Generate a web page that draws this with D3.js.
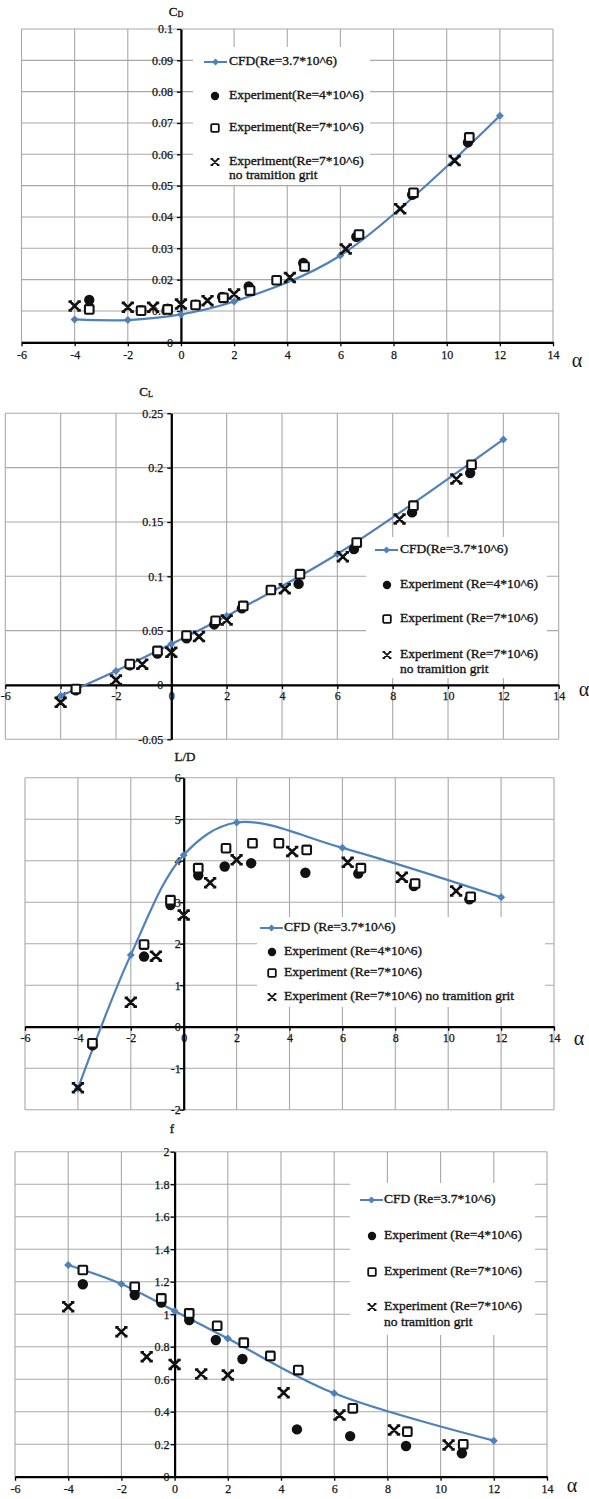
<!DOCTYPE html>
<html><head><meta charset="utf-8">
<script src="https://cdn.jsdelivr.net/npm/d3@7"></script>
<style>
body{margin:0;background:#fff}
svg{display:block}
</style>
</head><body>
<svg id="c" width="589" height="1499"></svg>
<script>
// ---------- data ----------
const alphaTicks = [-6,-4,-2,0,2,4,6,8,10,12,14];
const cdTicks = [0,0.01,0.02,0.03,0.04,0.05,0.06,0.07,0.08,0.09,0.1];
const clTicks = [-0.05,0,0.05,0.1,0.15,0.2,0.25];
const ldTicks = [-2,-1,0,1,2,3,4,5,6];
const fTicks  = [0,0.2,0.4,0.6,0.8,1,1.2,1.4,1.6,1.8,2];

const alphaCFD     = [-4,-2,0,2,6,12];
const alphaRe4     = [-3.45,-1.5,-0.5,0.55,1.55,2.55,4.6,6.6,8.7,10.8];
const alphaRe7     = [-3.45,-1.5,-0.5,0.55,1.6,2.6,3.6,4.65,6.7,8.75,10.85];
const alphaNoGrit  = [-4,-2,-1.05,0,1,2,4.1,6.2,8.25,10.3];

const cdCFD    = [0.0073,0.0071,0.0089,0.0130,0.0277,0.0723];
const cdRe4    = [0.0135,0.0102,0.0107,0.0120,0.0145,0.0178,0.0253,0.0337,0.0471,0.0638];
const cdRe7    = [0.0105,0.0101,0.0105,0.0119,0.0142,0.0165,0.0198,0.0242,0.0344,0.0477,0.0654];
const cdNoGrit = [0.0116,0.0112,0.0112,0.0122,0.0133,0.0154,0.0207,0.0298,0.0426,0.0580];

const clCFD    = [-0.010,0.0129,0.0376,0.0635,0.1205,0.226];
const clRe4    = [-0.005,0.018,0.029,0.043,0.0557,0.0705,0.093,0.125,0.1588,0.195];
const clRe7    = [-0.0037,0.0193,0.0313,0.0455,0.0591,0.0727,0.0874,0.102,0.131,0.165,0.2026];
const clNoGrit = [-0.016,0.0046,0.019,0.030,0.0445,0.0598,0.0885,0.118,0.1527,0.1895];

const ldCFD    = [-1.49,1.73,4.14,4.92,4.31,3.12];
const ldRe4    = [-0.45,1.69,2.93,3.65,3.86,3.94,3.71,3.69,3.39,3.07];
const ldRe7    = [-0.40,1.98,3.05,3.82,4.30,4.42,4.42,4.26,3.82,3.45,3.13];
const ldNoGrit = [-1.47,0.59,1.70,2.69,3.47,4.02,4.22,3.96,3.60,3.27];

const fCFD    = [1.303,1.186,1.02,0.851,0.513,0.222];
const fRe4    = [1.184,1.118,1.071,0.964,0.841,0.724,0.291,0.25,0.189,0.144];
const fRe7    = [1.272,1.169,1.097,1.005,0.929,0.825,0.743,0.656,0.421,0.277,0.199];
const fNoGrit = [1.046,0.892,0.738,0.691,0.632,0.626,0.517,0.379,0.287,0.195];

const namesTight = ["CFD(Re=3.7*10^6)","Experiment(Re=4*10^6)","Experiment(Re=7*10^6)","Experiment(Re=7*10^6)","no tramition grit"];
const namesMid   = ["CFD(Re=3.7*10^6)","Experiment (Re=4*10^6)","Experiment (Re=7*10^6)","Experiment (Re=7*10^6)","no tramition grit"];
const namesWide  = ["CFD (Re=3.7*10^6)","Experiment (Re=4*10^6)","Experiment (Re=7*10^6)","Experiment (Re=7*10^6)","no tramition grit"];

// ---------- drawing ----------
const FONT = "'Liberation Serif', Tinos, 'Times New Roman', 'DejaVu Serif', serif";
const svg = d3.select("#c").style("font-family", FONT);
const GRID = "#a8a8a8";
const BLUE = "#4f81bd";
const INK = "#151515";
const zip = (a,b) => a.map((v,i)=>[v,b[i]]);
const fmt = d => String(+d.toFixed(3));

function xMarker(s){
  const c = s*0.4;
  return `M${-s},${-s}L${s},${s}M${s},${-s}L${-s},${s}M${-s-c},${-s}L${-s+c},${-s}M${s-c},${-s}L${s+c},${-s}M${-s-c},${s}L${-s+c},${s}M${s-c},${s}L${s+c},${s}`;
}
const diamond = s => `M0,${-s}L${s},0L0,${s}L${-s},0Z`;
const heavy = sel => sel.attr("fill",INK).attr("stroke",INK).attr("stroke-width",0.35);

function panel(cfg){
  const x = d3.scaleLinear().domain([-6,14]).range([cfg.left,cfg.right]);
  const y = d3.scaleLinear().domain(cfg.yDomain).range([cfg.bottom,cfg.top]);
  const g = svg.append("g");

  // grid
  g.append("g").selectAll("line").data(alphaTicks).join("line")
    .attr("x1",d=>x(d)).attr("x2",d=>x(d)).attr("y1",cfg.top).attr("y2",cfg.bottom)
    .attr("stroke",GRID).attr("stroke-width",1.1);
  g.append("g").selectAll("line").data(cfg.yTicks).join("line")
    .attr("y1",d=>y(d)).attr("y2",d=>y(d)).attr("x1",cfg.left).attr("x2",cfg.right)
    .attr("stroke",GRID).attr("stroke-width",1.1);

  // legend box (covers grid)
  const L = cfg.legend;
  g.append("rect").attr("x",L.box[0]).attr("y",L.box[1]).attr("width",L.box[2]).attr("height",L.box[3]).attr("fill","#fff");

  // axes
  const xa = g.append("g").attr("transform",`translate(0,${y(0)})`)
    .call(d3.axisBottom(x).tickValues(alphaTicks).tickFormat(d=>String(d)).tickSizeInner(4).tickSizeOuter(0).tickPadding(cfg.xPad));
  const ya = g.append("g").attr("transform",`translate(${x(0)},0)`)
    .call(d3.axisLeft(y).tickValues(cfg.yTicks).tickFormat(fmt).tickSizeInner(4).tickSizeOuter(0).tickPadding(cfg.yPad));
  [xa,ya].forEach(a=>{
    a.attr("font-family",FONT).attr("font-size",12);
    a.select(".domain").attr("stroke","#000").attr("stroke-width",2.2);
    a.selectAll(".tick line").attr("stroke","#000").attr("stroke-width",1.3);
    heavy(a.selectAll(".tick text")).attr("stroke-width",0.25);
  });

  // axis titles
  const t = heavy(g.append("text").attr("x",cfg.title.x).attr("y",cfg.title.y).attr("text-anchor","middle")
    .attr("dominant-baseline","middle").attr("font-size",13));
  t.append("tspan").text(cfg.title.main);
  if (cfg.title.sub) t.append("tspan").attr("dy",2).attr("font-size",8).text(cfg.title.sub);
  g.append("text").attr("x",cfg.alphaPos[0]).attr("y",cfg.alphaPos[1]).attr("text-anchor","middle")
    .attr("dominant-baseline","middle").attr("font-size",20).attr("fill",INK).text("α");

  // CFD line
  const line = d3.line().x(d=>x(d[0])).y(d=>y(d[1])).curve(d3.curveCatmullRom);
  const cfd = zip(alphaCFD,cfg.cfd);
  g.append("path").attr("d",line(cfd)).attr("fill","none").attr("stroke",BLUE).attr("stroke-width",2.2);
  g.append("g").selectAll("path").data(cfd).join("path")
    .attr("transform",d=>`translate(${x(d[0])},${y(d[1])})`).attr("d",diamond(4)).attr("fill",BLUE);

  // experiments
  g.append("g").selectAll("circle").data(zip(alphaRe4,cfg.re4)).join("circle")
    .attr("cx",d=>x(d[0])).attr("cy",d=>y(d[1])).attr("r",5.2).attr("fill","#111");
  g.append("g").selectAll("rect").data(zip(alphaRe7,cfg.re7)).join("rect")
    .attr("x",d=>x(d[0])-4.3).attr("y",d=>y(d[1])-4.3).attr("width",8.6).attr("height",8.6)
    .attr("rx",1).attr("fill","#fff").attr("stroke","#111").attr("stroke-width",2.1);
  g.append("g").selectAll("path").data(zip(alphaNoGrit,cfg.ng)).join("path")
    .attr("transform",d=>`translate(${x(d[0])},${y(d[1])})`).attr("d",xMarker(4.4))
    .attr("fill","none").attr("stroke","#111").attr("stroke-width",2.7);

  // legend content
  const n = L.names, r = L.rows, mx = L.mx;
  const lg = g.append("g");
  lg.append("line").attr("x1",L.lx[0]).attr("x2",L.lx[1]).attr("y1",r[0]).attr("y2",r[0]).attr("stroke",BLUE).attr("stroke-width",2);
  lg.append("path").attr("transform",`translate(${(L.lx[0]+L.lx[1])/2},${r[0]})`).attr("d",diamond(3.5)).attr("fill",BLUE);
  lg.append("circle").attr("cx",mx).attr("cy",r[1]).attr("r",4.2).attr("fill","#111");
  lg.append("rect").attr("x",mx-3.8).attr("y",r[2]-3.8).attr("width",7.6).attr("height",7.6).attr("rx",1)
    .attr("fill","#fff").attr("stroke","#111").attr("stroke-width",1.8);
  lg.append("path").attr("transform",`translate(${mx},${r[3]})`).attr("d",xMarker(3.2)).attr("fill","none").attr("stroke","#111").attr("stroke-width",1.7);
  const labels = L.wrap
    ? [[n[0],r[0]],[n[1],r[1]],[n[2],r[2]],[n[3],r[3]],[n[4],r[3]+L.wrap]]
    : [[n[0],r[0]],[n[1],r[1]],[n[2],r[2]],[n[3]+" "+n[4],r[3]]];
  heavy(lg.selectAll("text").data(labels).join("text")
    .attr("x",L.tx).attr("y",d=>d[1]).attr("dominant-baseline","middle")
    .attr("font-size",13.5)).text(d=>d[0]);
}

panel({left:21.5,right:553,top:29,bottom:342.3,yDomain:[0,0.1],yTicks:cdTicks,xPad:4,yPad:4,
  title:{main:"C",sub:"D",x:176,y:13},alphaPos:[577,362],
  cfd:cdCFD,re4:cdRe4,re7:cdRe7,ng:cdNoGrit,
  legend:{box:[193,47,177,138],mx:215,lx:[204,227],tx:229,rows:[62,96,128,162],wrap:14,names:namesTight}});

panel({left:5.3,right:558.7,top:413.3,bottom:739.3,yDomain:[-0.05,0.25],yTicks:clTicks,xPad:3,yPad:4,
  title:{main:"C",sub:"L",x:146,y:393},alphaPos:[584,691],
  cfd:clCFD,re4:clRe4,re7:clRe7,ng:clNoGrit,
  legend:{box:[366,537,181,141],mx:387,lx:[375,398],tx:400,rows:[550,585,619,655],wrap:15,names:namesMid}});

panel({left:25,right:554,top:777.7,bottom:1109.7,yDomain:[-2,6],yTicks:ldTicks,xPad:3,yPad:-1,
  title:{main:"L/D",x:185,y:758},alphaPos:[579,1040],
  cfd:ldCFD,re4:ldRe4,re7:ldRe7,ng:ldNoGrit,
  legend:{box:[257,917,288,90],mx:272,lx:[260,283],tx:284,rows:[928,952,973,997],wrap:0,names:namesWide}});

panel({left:15,right:547,top:1151.7,bottom:1476.7,yDomain:[0,2],yTicks:fTicks,xPad:4,yPad:1,
  title:{main:"f",x:172,y:1130},alphaPos:[572,1487],
  cfd:fCFD,re4:fRe4,re7:fRe7,ng:fNoGrit,
  legend:{box:[350,1183,185,152],mx:372,lx:[360,383],tx:384,rows:[1200,1236,1272,1307],wrap:16,names:namesWide}});
</script>
</body></html>
